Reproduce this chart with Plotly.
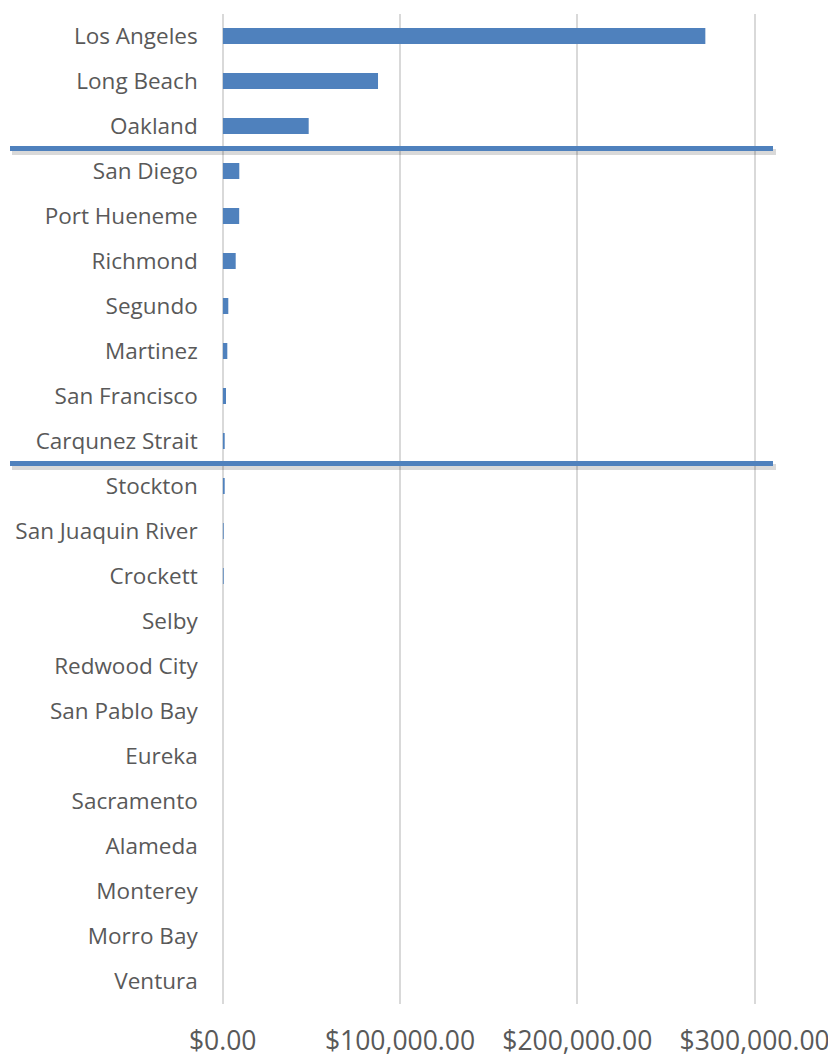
import plotly.graph_objects as go

ports = ["Los Angeles", "Long Beach", "Oakland", "San Diego", "Port Hueneme", "Richmond",
         "Segundo", "Martinez", "San Francisco", "Carqunez Strait", "Stockton",
         "San Juaquin River", "Crockett", "Selby", "Redwood City", "San Pablo Bay",
         "Eureka", "Sacramento", "Alameda", "Monterey", "Morro Bay", "Ventura"]
values = [272200, 87600, 48500, 9360, 9300, 7330, 3160, 2600, 1860, 1130, 1100,
          300, 150, 0, 0, 0, 0, 0, 0, 0, 0, 0]
x_ticks = [0, 100000, 200000, 300000]
x_tick_labels = ["$0.00", "$100,000.00", "$200,000.00", "$300,000.00"]
divider_after = [2.5, 9.5]  # boundaries between groups (category index)

# page body has an 8px margin; figure sized to fit the 836x1061 window
OFF = 8
W, H = 836 - OFF, 1061 - OFF
BLUE = "#4F81BD"

fig = go.Figure(go.Bar(
    y=ports, x=values, orientation="h",
    marker=dict(color=BLUE, line=dict(width=0)),
    hoverinfo="y+x",
))

shapes = []
for d in divider_after:
    shapes.append(dict(type="line", xref="paper", yref="y",
                       x0=(12 - OFF) / W, x1=(776 - OFF) / W, y0=d + 0.08, y1=d + 0.08,
                       line=dict(color="rgba(0,0,0,0.15)", width=6), layer="above"))
    shapes.append(dict(type="line", xref="paper", yref="y",
                       x0=(10 - OFF) / W, x1=(773 - OFF) / W, y0=d, y1=d,
                       line=dict(color=BLUE, width=5), layer="above"))

fig.update_layout(
    width=W, height=H,
    margin=dict(l=0, r=0, t=0, b=0),
    plot_bgcolor="white", paper_bgcolor="white",
    showlegend=False,
    bargap=0.64,
    shapes=shapes,
    font=dict(family="Open Sans", color="#595959"),
    xaxis=dict(
        domain=[(222.7 - OFF) / W, (756.4 - OFF) / W],
        range=[0, 301000],
        tickvals=x_ticks, ticktext=x_tick_labels,
        showgrid=True, gridcolor="#D9D9D9", gridwidth=1.5,
        zeroline=True, zerolinecolor="#D9D9D9", zerolinewidth=1.5,
        showline=False,
        tickfont=dict(size=26.5, color="#595959"),
        ticklabelstandoff=19,
        automargin=False,
        fixedrange=True,
    ),
    yaxis=dict(
        domain=[1 - (1003.5 - OFF) / H, 1 - (13.5 - OFF) / H],
        autorange="reversed",
        showgrid=False, zeroline=False, showline=False,
        tickfont=dict(size=22.5, color="#595959"),
        ticklabelstandoff=24,
        automargin=False,
        fixedrange=True,
    ),
)

fig.write_html("out.html")
